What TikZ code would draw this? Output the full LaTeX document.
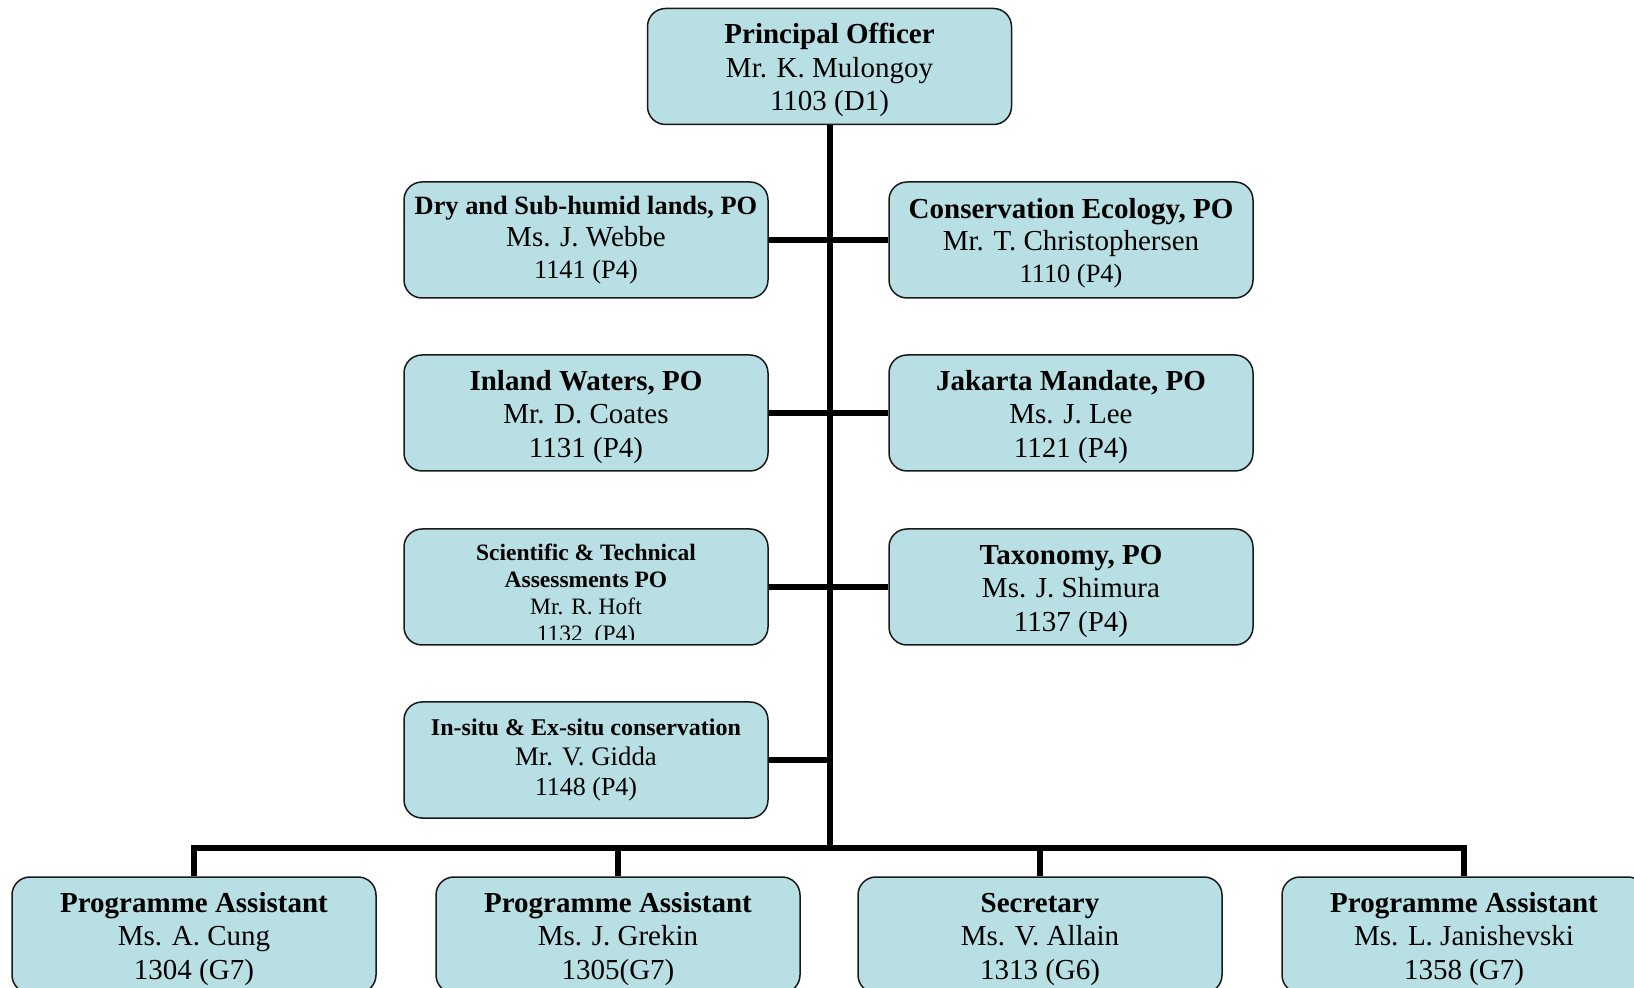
\documentclass[tikz,border=0pt]{standalone}
\usepackage{fontspec}
\setmainfont{Liberation Serif}
\usetikzlibrary{positioning}

\definecolor{boxblue}{RGB}{184,223,227}
\newcommand\normtxt{\fontsize{14.5}{16.75}\selectfont}
\newcommand\midtxt{\fontsize{13.2}{16}\selectfont}
\newcommand\smalltxt{\fontsize{12}{16}\selectfont}
\newcommand\hd{\rule{0pt}{13.6pt}}

\tikzset{
  officebox/.style={draw=black!90, line width=0.75pt, fill=boxblue, rounded corners=9pt,
    minimum width=182pt, minimum height=58pt, inner sep=0pt, align=center, font=\normtxt},
  wire/.style={line width=3pt},
}

\begin{document}
\begin{tikzpicture}[x=0.5pt, y=-0.5pt]
\clip (0,0) rectangle (1634,988);

\node[officebox] (po) at (829.5,66.5) {\hd\textbf{Principal Officer}\\Mr. K. Mulongoy\\1103 (D1)};

% programme officers, left and right of the trunk
\node[officebox, font=\fontsize{14.5}{16}\selectfont] (dry) at (586,240) {{\midtxt\textbf{Dry and Sub-humid lands, PO}}\\Ms. J. Webbe\\{\midtxt 1141 (P4)}};
\node[officebox, font=\fontsize{14.5}{16}\selectfont] (cons) at (1071,240) {\hd\textbf{Conservation Ecology, PO}\\Mr. T. Christophersen\\{\midtxt 1110 (P4)}};
\node[officebox] (inland) at (586,413) {\hd\textbf{Inland Waters, PO}\\Mr. D. Coates\\1131 (P4)};
\node[officebox] (jakarta) at (1071,413) {\hd\textbf{Jakarta Mandate, PO}\\Ms. J. Lee\\1121 (P4)};
\node[officebox] (sta) at (586,587) {};
\begin{scope}
  \clip (sta.north west) rectangle ([yshift=3pt]sta.south east);
  \node[font=\fontsize{11.75}{13.5}\selectfont, align=center, inner sep=0pt, anchor=north]
    (statxt) at ([yshift=-7.5pt]sta.north)
    {\textbf{Scientific \& Technical}\\\textbf{Assessments PO}\\Mr. R. Hoft\\1132\ \ (P4)};
\end{scope}
\node[officebox] (tax) at (1071,587) {\hd\textbf{Taxonomy, PO}\\Ms. J. Shimura\\1137 (P4)};
\node[officebox, font=\fontsize{14.5}{15}\selectfont] (insitu) at (586,760) {{\smalltxt\textbf{In-situ \& Ex-situ conservation}}\\{\fontsize{13.4}{16}\selectfont Mr. V. Gidda}\\{\fontsize{13}{16}\selectfont 1148 (P4)}};

% support staff
\node[officebox] (pa1) at (194,935) {\hd\textbf{Programme Assistant}\\Ms. A. Cung\\1304 (G7)};
\node[officebox] (pa2) at (618,935) {\hd\textbf{Programme Assistant}\\Ms. J. Grekin\\1305(G7)};
\node[officebox] (sec) at (1040,935) {\hd\textbf{Secretary}\\Ms. V. Allain\\1313 (G6)};
\node[officebox] (pa3) at (1464,935) {\hd\textbf{Programme Assistant}\\Ms. L. Janishevski\\1358 (G7)};

\coordinate (bus) at (829.5,848);

\draw[wire] (po.south) -- (bus);
\draw[wire] (dry.east) -- (cons.west);
\draw[wire] (inland.east) -- (jakarta.west);
\draw[wire] (sta.east) -- (tax.west);
\draw[wire] (insitu.east) -- (insitu.east -| bus);
\draw[wire] (pa1.north) |- (bus) -| (pa3.north);
\foreach \n in {pa2,sec}
  \draw[wire] (\n.north) -- (\n.north |- bus);
\end{tikzpicture}
\end{document}
